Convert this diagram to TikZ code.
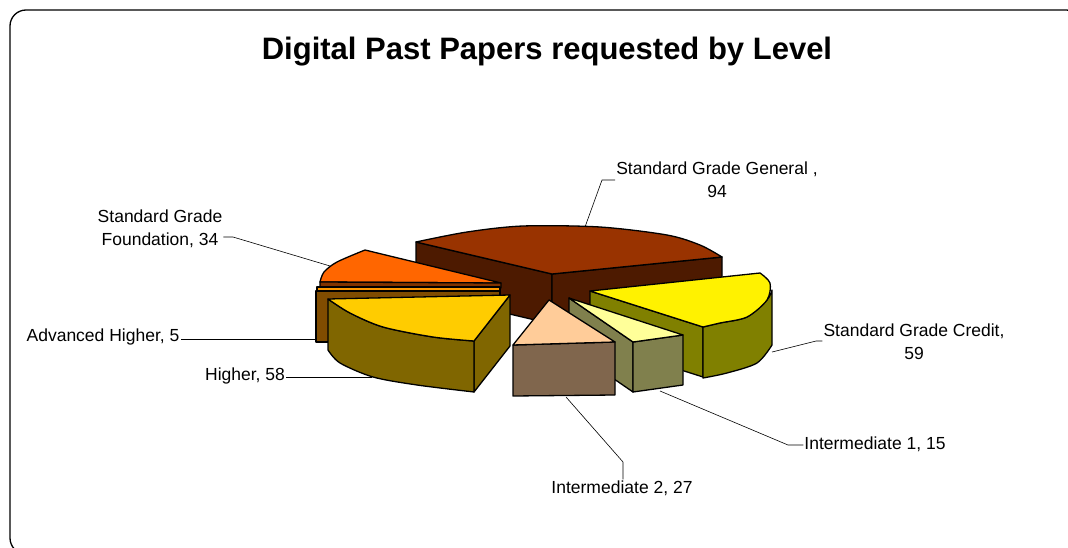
\documentclass[tikz,border=0pt]{standalone}
\usepackage{fontspec}
\setmainfont{Liberation Sans}
\usetikzlibrary{
  calc,
  positioning
}
\definecolor{sggtop}{HTML}{993300}
\definecolor{sggside}{HTML}{4D1A00}
\definecolor{sgftop}{HTML}{FF6600}
\definecolor{sgfside}{HTML}{803300}
\definecolor{ahtop}{HTML}{FF9900}
\definecolor{ahside}{HTML}{804C00}
\definecolor{hitop}{HTML}{FFCC00}
\definecolor{hiside}{HTML}{806600}
\definecolor{inttwotop}{HTML}{FFCC99}
\definecolor{inttwoside}{HTML}{80664D}
\definecolor{intonetop}{HTML}{FFFF99}
\definecolor{intoneside}{HTML}{80804D}
\definecolor{sgctop}{HTML}{FFF200}
\definecolor{sgcside}{HTML}{808000}

\begin{document}
\begin{tikzpicture}[x=1pt,y=-1pt,
  slice/.style={draw=black,line width=1.3pt,line join=round},
  leader/.style={draw=black,line width=0.6pt},
  lbl/.style={font=\fontsize{17.5}{23}\selectfont,align=center,inner sep=1pt}]
  \useasboundingbox (0,0) rectangle (1068,548);
  \clip (0,0) rectangle (1068,548);
  \draw[line width=1.3pt,rounded corners=16] (10,10) rectangle (1082,554);
  \node[font=\fontsize{31}{36}\selectfont\bfseries] (title) at (547,52) {Digital Past Papers requested by Level};

  \filldraw[slice,fill=sggside] (416,242) -- (552,274) -- (552,324) -- (416,292) -- cycle;
  \filldraw[slice,fill=sggside] (552,274) -- (722,257) -- (722,307) -- (552,324) -- cycle;
  \filldraw[slice,fill=sggtop] (552,274) -- (416,242) -- plot[smooth] coordinates {(416,242) (467,232) (523,226) (600,227) (667,235) (700,245) (722,257)} -- cycle;

  \filldraw[slice,fill=sgftop] (501,283) -- (365,250) -- plot[smooth] coordinates {(365,250) (337,262) (324,272) (320,282)} -- cycle;
  \filldraw[slice,fill=sgfside] (320,282) -- (501,283) -- (501,288) -- (320,288) -- cycle;
  \filldraw[slice,fill=ahtop] (317,287) -- (500,287) -- (500,291) -- (317,291) -- cycle;
  \filldraw[slice,fill=ahside] (316,291) -- (500,291) -- (500,342) -- (316,342) -- cycle;

  \filldraw[slice,fill=sgcside] (590,291) -- (703,327) -- (703,377) -- (590,341) -- cycle;
  \filldraw[slice,fill=sgcside] (703,327) -- plot[smooth] coordinates {(703,327) (720,323) (747,317) (767,300) (772,290)} -- (772,345) -- plot[smooth] coordinates {(772,345) (757,363) (727,373) (703,378)} -- cycle;
  \filldraw[slice,fill=sgctop] (590,291) -- (760,273) -- plot[smooth] coordinates {(760,273) (770,283) (767,300) (747,317) (720,323) (703,327)} -- cycle;

  \filldraw[slice,fill=intoneside] (569,298) -- (633,342) -- (633,392) -- (569,348) -- cycle;
  \filldraw[slice,fill=intoneside] (633,342) -- (683,335) -- (683,385) -- (633,392) -- cycle;
  \filldraw[slice,fill=intonetop] (569,298) -- (683,335) -- (633,342) -- cycle;

  \filldraw[slice,fill=inttwoside] (513,345) -- (615,342) -- (615,395) -- (513,396) -- cycle;
  \filldraw[slice,fill=inttwotop] (549,300) -- (615,342) -- (513,345) -- cycle;

  \filldraw[slice,fill=hiside] (474,341) -- (510,295) -- (510,346) -- (474,392) -- cycle;
  \filldraw[slice,fill=hiside] (328,299) -- plot[smooth] coordinates {(328,299) (350,313) (383,327) (433,337) (474,341)} -- (474,392) -- plot[smooth] coordinates {(474,392) (417,385) (373,377) (340,363) (328,350)} -- cycle;
  \filldraw[slice,fill=hitop] (510,295) -- (328,299) -- plot[smooth] coordinates {(328,299) (350,313) (383,327) (433,337) (474,341)} -- cycle;

  \node[lbl] (sgg) at (717,180) {Standard Grade General ,\\94};
  \node[lbl] (sgc) at (914,342) {Standard Grade Credit,\\59};
  \node[lbl] (intone) at (875,444) {Intermediate 1, 15};
  \node[lbl] (inttwo) at (622,488) {Intermediate 2, 27};
  \node[lbl] (hi) at (245,376) {Higher, 58};
  \node[lbl] (ah) at (103,337) {Advanced Higher, 5};
  \node[lbl] (sgf) at (160,229) {Standard Grade\\Foundation, 34};

  \coordinate (sgg-tip) at (585,227);
  \coordinate (sgg-bend) at (602,180);
  \coordinate (sgc-tip) at (772,352);
  \coordinate (sgc-bend) at (816,341);
  \coordinate (intone-tip) at (660,391);
  \coordinate (intone-bend) at (788,445);
  \coordinate (inttwo-tip) at (566,397);
  \coordinate (inttwo-bend) at (623,462);
  \coordinate (hi-tip) at (372,377);
  \coordinate (ah-tip) at (316,339);
  \coordinate (sgf-tip) at (330,266);
  \coordinate (sgf-bend) at (233,237);

  \draw[leader] (sgg-tip) -- (sgg-bend) -- (sgg.west |- sgg-bend);
  \draw[leader] (sgc-tip) -- (sgc-bend) -- (sgc.west |- sgc-bend);
  \draw[leader] (intone-tip) -- (intone-bend) -- (intone.west |- intone-bend);
  \draw[leader] (inttwo-tip) -- (inttwo-bend) -- (inttwo.north -| inttwo-bend);
  \draw[leader] (hi-tip) -- (hi.east |- hi-tip);
  \draw[leader] (ah-tip) -- (ah.east |- ah-tip);
  \draw[leader] (sgf-tip) -- (sgf-bend) -- (sgf.east |- sgf-bend);
\end{tikzpicture}
\end{document}
